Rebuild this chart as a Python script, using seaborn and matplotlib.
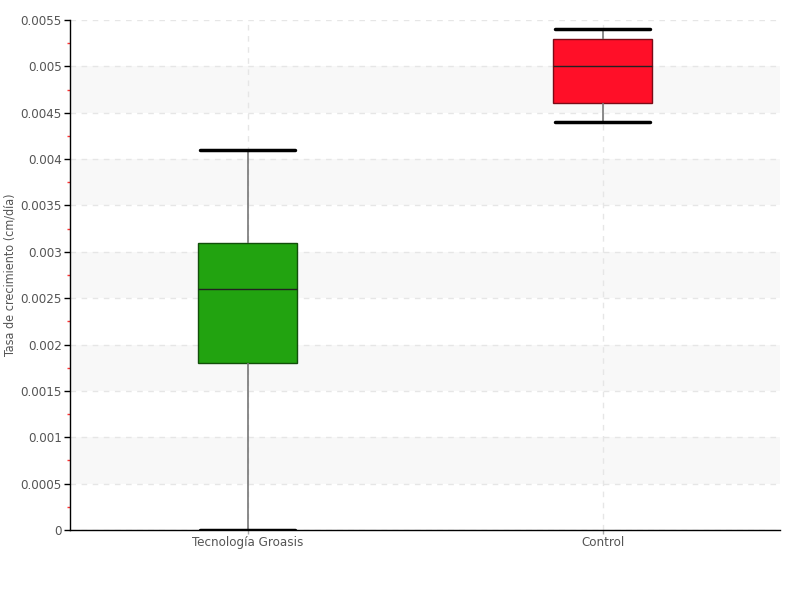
import numpy as np
import pandas as pd
import matplotlib
matplotlib.use("Agg")
import matplotlib.pyplot as plt
from matplotlib.ticker import MultipleLocator, FuncFormatter
import seaborn as sns

# box summary: min, q1, median, q3, max
categories = ["Tecnología Groasis", "Control"]
groasis_stats = [0.0, 0.0018, 0.0026, 0.0031, 0.0041]
control_stats = [0.0044, 0.0046, 0.0050, 0.0053, 0.0054]
box_colors = ["#22a310", "#ff0f28"]
edge_colors = ["#124f0a", "#7a0a16"]
y_label = "Tasa de crecimiento (cm/día)"

sns.set_style("white")
plt.rcParams["font.family"] = ["DejaVu Sans"]
plt.rcParams["font.stretch"] = "condensed"

df = pd.DataFrame({
    "grupo": [categories[0]] * len(groasis_stats) + [categories[1]] * len(control_stats),
    "tasa": groasis_stats + control_stats,
})

fig = plt.figure(figsize=(8, 6), dpi=100)
ax = fig.add_axes([0.0875, 0.1167, 0.8875, 0.85])

# alternating background bands
for lo in np.arange(0.0005, 0.0055, 0.001):
    ax.axhspan(lo, lo + 0.0005, color="#f8f8f8", zorder=0, lw=0)

sns.boxplot(data=df, x="grupo", y="tasa", hue="grupo", palette=box_colors,
            saturation=1, whis=(0, 100), width=0.28, linewidth=1, legend=False, ax=ax,
            whiskerprops=dict(color="#777777", lw=1.2),
            capprops=dict(color="black", lw=2.5),
            medianprops=dict(color="#222222", lw=1))

for patch, ec in zip(ax.patches[-2:], edge_colors):
    patch.set_edgecolor(ec)

# widen caps to nearly the box width
for line in ax.lines:
    xd = np.asarray(line.get_xdata(), dtype=float)
    yd = np.asarray(line.get_ydata(), dtype=float)
    if len(xd) == 2 and yd[0] == yd[1] and line.get_color() == "black":
        c = xd.mean()
        line.set_xdata([c - 0.135, c + 0.135])

ax.set_xlim(-0.5, 1.5)
ax.set_ylim(0, 0.0055)
ax.yaxis.set_major_locator(MultipleLocator(0.0005))
ax.yaxis.set_minor_locator(MultipleLocator(0.00025))
ax.yaxis.set_major_formatter(FuncFormatter(
    lambda v, p: f"{v:.4f}".rstrip("0").rstrip(".") if v else "0"))

ax.grid(True, which="major", axis="both", color="#e6e6e6", ls=(0, (4, 4)), lw=1)
ax.set_axisbelow(True)

for s in ["top", "right"]:
    ax.spines[s].set_visible(False)
for s in ["left", "bottom"]:
    ax.spines[s].set_color("black")
    ax.spines[s].set_linewidth(1)

ax.tick_params(axis="y", which="major", direction="out", length=4, width=1,
               color="black", labelsize=9.5, labelcolor="#555555", pad=2, left=True)
ax.tick_params(axis="y", which="minor", direction="out", length=2, width=1,
               color="#ff3333", left=True)
ax.tick_params(axis="x", which="major", direction="out", length=3, width=1,
               color="#aaaaaa", labelsize=9.5, labelcolor="#555555", pad=1, bottom=True)

ax.set_xlabel("")
ax.set_ylabel(y_label, fontsize=9, color="#555555", labelpad=1)
ax.yaxis.set_label_coords(-0.075, 0.5)

fig.savefig("out.png", dpi=100)
